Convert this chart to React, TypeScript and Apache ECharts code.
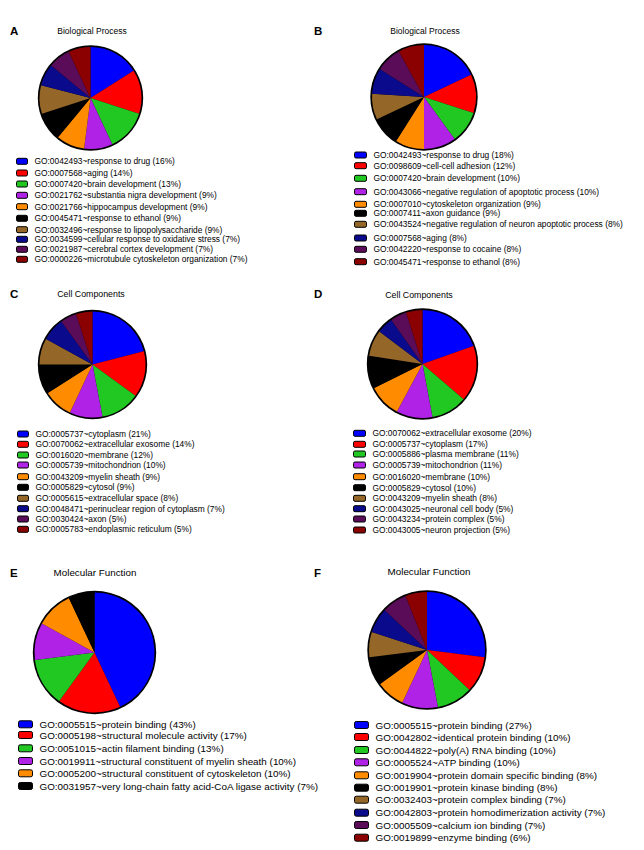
import React, { useEffect, useRef } from "react";
import * as echarts from "echarts";

const COLORS = ["#0000ff", "#ff0000", "#22c822", "#b022e6", "#ff8c00", "#000000", "#946628", "#0a0a8c", "#5a0c58", "#8b0000"];

const namesA = [
  "GO:0042493~response to drug (16%)",
  "GO:0007568~aging (14%)",
  "GO:0007420~brain development (13%)",
  "GO:0021762~substantia nigra development (9%)",
  "GO:0021766~hippocampus development (9%)",
  "GO:0045471~response to ethanol (9%)",
  "GO:0032496~response to lipopolysaccharide (9%)",
  "GO:0034599~cellular response to oxidative stress (7%)",
  "GO:0021987~cerebral cortex development (7%)",
  "GO:0000226~microtubule cytoskeleton organization (7%)",
];
const valuesA = [16, 14, 13, 9, 9, 9, 9, 7, 7, 7];

const namesB = [
  "GO:0042493~response to drug (18%)",
  "GO:0098609~cell-cell adhesion (12%)",
  "GO:0007420~brain development (10%)",
  "GO:0043066~negative regulation of apoptotic process (10%)",
  "GO:0007010~cytoskeleton organization (9%)",
  "GO:0007411~axon guidance (9%)",
  "GO:0043524~negative regulation of neuron apoptotic process (8%)",
  "GO:0007568~aging (8%)",
  "GO:0042220~response to cocaine (8%)",
  "GO:0045471~response to ethanol (8%)",
];
const valuesB = [18, 12, 10, 10, 9, 9, 8, 8, 8, 8];

const namesC = [
  "GO:0005737~cytoplasm (21%)",
  "GO:0070062~extracellular exosome (14%)",
  "GO:0016020~membrane (12%)",
  "GO:0005739~mitochondrion (10%)",
  "GO:0043209~myelin sheath (9%)",
  "GO:0005829~cytosol (9%)",
  "GO:0005615~extracellular space (8%)",
  "GO:0048471~perinuclear region of cytoplasm (7%)",
  "GO:0030424~axon (5%)",
  "GO:0005783~endoplasmic reticulum (5%)",
];
const valuesC = [21, 14, 12, 10, 9, 9, 8, 7, 5, 5];

const namesD = [
  "GO:0070062~extracellular exosome (20%)",
  "GO:0005737~cytoplasm (17%)",
  "GO:0005886~plasma membrane (11%)",
  "GO:0005739~mitochondrion (11%)",
  "GO:0016020~membrane (10%)",
  "GO:0005829~cytosol (10%)",
  "GO:0043209~myelin sheath (8%)",
  "GO:0043025~neuronal cell body (5%)",
  "GO:0043234~protein complex (5%)",
  "GO:0043005~neuron projection (5%)",
];
const valuesD = [20, 17, 11, 11, 10, 10, 8, 5, 5, 5];

const namesE = [
  "GO:0005515~protein binding (43%)",
  "GO:0005198~structural molecule activity (17%)",
  "GO:0051015~actin filament binding (13%)",
  "GO:0019911~structural constituent of myelin sheath (10%)",
  "GO:0005200~structural constituent of cytoskeleton (10%)",
  "GO:0031957~very long-chain fatty acid-CoA ligase activity (7%)",
];
const valuesE = [43, 17, 13, 10, 10, 7];

const namesF = [
  "GO:0005515~protein binding (27%)",
  "GO:0042802~identical protein binding (10%)",
  "GO:0044822~poly(A) RNA binding (10%)",
  "GO:0005524~ATP binding (10%)",
  "GO:0019904~protein domain specific binding (8%)",
  "GO:0019901~protein kinase binding (8%)",
  "GO:0032403~protein complex binding (7%)",
  "GO:0042803~protein homodimerization activity (7%)",
  "GO:0005509~calcium ion binding (7%)",
  "GO:0019899~enzyme binding (6%)",
];
const valuesF = [27, 10, 10, 10, 8, 8, 7, 7, 7, 6];

const panelLetters = ["A", "B", "C", "D", "E", "F"];
const panelTitles = ["Biological Process", "Biological Process", "Cell Components", "Cell Components", "Molecular Function", "Molecular Function"];

const FONT = "Liberation Sans, Arial, sans-serif";

type Layout = {
  letter: [number, number];
  title: [number, number];
  titleSize: number;
  center: [number, number];
  radius: number;
  swatchX: number;
  swatchW: number;
  swatchH: number;
  fontSize: number;
  rows: number[];
};

const layouts: Layout[] = [
  { letter: [10, 25], title: [92, 26], titleSize: 8.5, center: [90.5, 98], radius: 51, swatchX: 16, swatchW: 11, swatchH: 6, fontSize: 8.4,
    rows: [161.3, 173, 184, 195.3, 206.7, 218.3, 229.7, 239.3, 249.3, 259.3] },
  { letter: [314, 25], title: [425, 26], titleSize: 8.5, center: [424, 97], radius: 52, swatchX: 354, swatchW: 12, swatchH: 6, fontSize: 8.4,
    rows: [155, 165.7, 178.3, 191.7, 204.3, 213.3, 224.3, 238, 249.3, 261.7] },
  { letter: [10, 288], title: [91, 289], titleSize: 8.8, center: [92.5, 364.5], radius: 53, swatchX: 17, swatchW: 11, swatchH: 6, fontSize: 8.4,
    rows: [434, 444.3, 455, 465, 476.7, 487.3, 498.3, 508.7, 519, 529.3] },
  { letter: [314, 288], title: [419, 290], titleSize: 8.8, center: [422.5, 364], radius: 54, swatchX: 353, swatchW: 12, swatchH: 6, fontSize: 8.4,
    rows: [433.3, 444.3, 454, 465, 476.7, 487.7, 498.3, 508.7, 519, 530] },
  { letter: [10, 567], title: [95, 567], titleSize: 9.8, center: [94.5, 652.5], radius: 60, swatchX: 18, swatchW: 14, swatchH: 7, fontSize: 9.9,
    rows: [724.3, 735, 748.3, 761, 773.3, 786] },
  { letter: [314, 567], title: [429, 566], titleSize: 9.8, center: [427, 650], radius: 58, swatchX: 354, swatchW: 14, swatchH: 7, fontSize: 9.9,
    rows: [725, 737, 750, 762.3, 775.3, 787.7, 799.7, 812.7, 825, 837.7] },
];

const allNames = [namesA, namesB, namesC, namesD, namesE, namesF];
const allValues = [valuesA, valuesB, valuesC, valuesD, valuesE, valuesF];

export default function App() {
  const ref = useRef<HTMLDivElement>(null);
  useEffect(() => {
    if (!ref.current) return;
    const chart = echarts.init(ref.current, undefined, { renderer: "svg" });
    const titles: any[] = [];
    const series: any[] = [];
    const legends: any[] = [];
    layouts.forEach((L, p) => {
      titles.push({
        text: panelLetters[p], left: L.letter[0], top: L.letter[1], padding: 0,
        textStyle: { fontFamily: FONT, fontSize: 11.5, fontWeight: "bold", color: "#000" },
      });
      titles.push({
        text: panelTitles[p], left: L.title[0], top: L.title[1], padding: 0, textAlign: "center",
        textStyle: { fontFamily: FONT, fontSize: L.titleSize, fontWeight: "normal", color: "#000" },
      });
      series.push({
        type: "pie", silent: true, center: L.center, radius: [0, L.radius + 1.7],
        label: { show: false }, labelLine: { show: false },
        data: [{ value: 1, name: "outline" + p, itemStyle: { color: "#000" } }],
      });
      series.push({
        type: "pie", center: L.center, radius: [0, L.radius], startAngle: 90, clockwise: true,
        label: { show: false }, labelLine: { show: false },
        itemStyle: { borderWidth: 0 },
        emphasis: { disabled: true },
        data: allNames[p].map((n, i) => ({ name: n, value: allValues[p][i], itemStyle: { color: COLORS[i] } })),
      });
      allNames[p].forEach((n, i) => {
        legends.push({
          data: [n], left: L.swatchX, top: L.rows[i] - 5, padding: 0, icon: "roundRect",
          itemWidth: L.swatchW, itemHeight: L.swatchH, selectedMode: false,
          itemStyle: { borderColor: "#000", borderWidth: 1 },
          textStyle: { fontFamily: FONT, fontSize: L.fontSize, color: "#000", lineHeight: 10, padding: [0, 0, 0, 2] },
        });
      });
    });
    chart.setOption({
      animation: false,
      backgroundColor: "#fff",
      title: titles,
      legend: legends,
      series,
    });
    return () => chart.dispose();
  }, []);
  return <div ref={ref} style={{ position: "absolute", left: 0, top: 0, width: 644, height: 850 }} />;
}
